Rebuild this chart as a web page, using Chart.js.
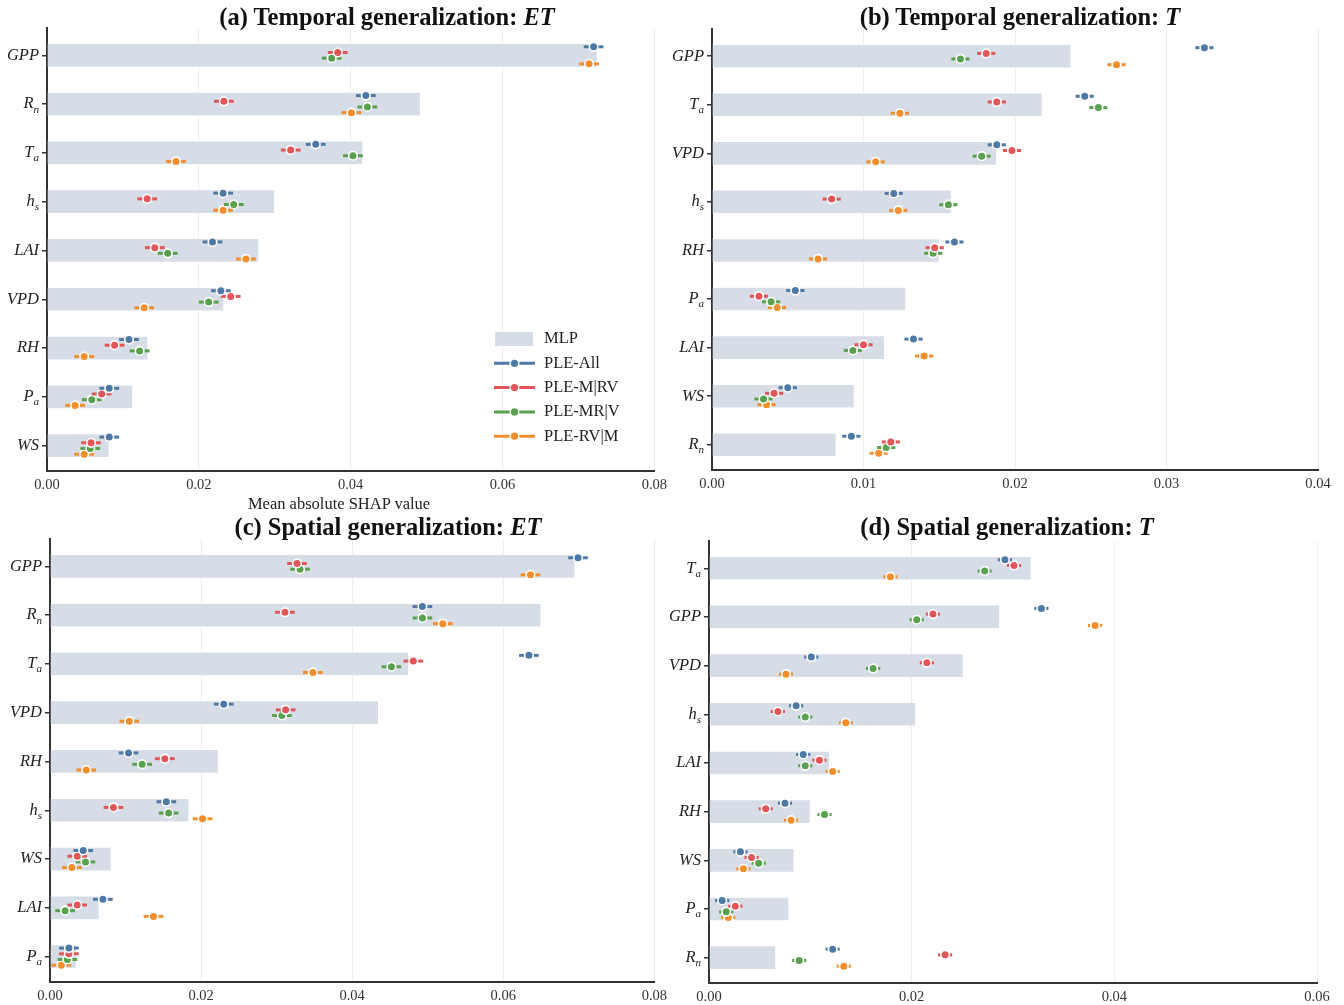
<!DOCTYPE html>
<html>
<head>
<meta charset="utf-8">
<script src="https://cdn.jsdelivr.net/npm/chart.js@4.4.0/dist/chart.umd.min.js"></script>
<style>
  body { margin: 0; background: #fff; }
  #page { position: relative; width: 1344px; height: 1005px; overflow: hidden; background: #fff; }
  canvas { position: absolute; }
  .title { position: absolute; font: bold 24.5px "Liberation Serif", "Times New Roman", serif; color: #111; white-space: nowrap; transform: translate(-50%, -50%); }
  .xlabel { position: absolute; font: 16.5px "Liberation Serif", "Times New Roman", serif; color: #222; white-space: nowrap; transform: translate(-50%, -50%); }
</style>
</head>
<body>
<div id="page">
  <canvas id="chartA" width="672" height="520" style="left:0;top:0"></canvas>
  <canvas id="chartB" width="684" height="520" style="left:660px;top:0"></canvas>
  <canvas id="chartC" width="672" height="495" style="left:0;top:510px"></canvas>
  <canvas id="chartD" width="704" height="495" style="left:640px;top:510px"></canvas>
  <div class="title" style="left:387px;top:17px">(a) Temporal generalization: <i>ET</i></div>
  <div class="title" style="left:1020px;top:17px">(b) Temporal generalization: <i>T</i></div>
  <div class="title" style="left:388px;top:527px">(c) Spatial generalization: <i>ET</i></div>
  <div class="title" style="left:1007px;top:527px">(d) Spatial generalization: <i>T</i></div>
  <div class="xlabel" style="left:339px;top:504px">Mean absolute SHAP value</div>
</div>
<script>
// (a) temporal, ET
const catsA = ["GPP", "R_n", "T_a", "h_s", "LAI", "VPD", "RH", "P_a", "WS"];
const mlpA = [0.0725, 0.0492, 0.0416, 0.0300, 0.0279, 0.0233, 0.0133, 0.0113, 0.0082];
const allA = [0.0720, 0.0420, 0.0354, 0.0232, 0.0218, 0.0229, 0.0108, 0.0082, 0.0082];
const mRvA = [0.0383, 0.0233, 0.0321, 0.0132, 0.0142, 0.0242, 0.0089, 0.0072, 0.0058];
const mrVA = [0.0375, 0.0422, 0.0403, 0.0246, 0.0159, 0.0213, 0.0122, 0.0059, 0.0057];
const rvMA = [0.0714, 0.0401, 0.0170, 0.0232, 0.0262, 0.0128, 0.0049, 0.0037, 0.0049];
const errA = 0.0013;

// (b) temporal, T
const catsB = ["GPP", "T_a", "VPD", "h_s", "RH", "P_a", "LAI", "WS", "R_n"];
const mlpB = [0.0237, 0.0218, 0.0188, 0.0158, 0.0150, 0.0128, 0.0114, 0.0094, 0.0082];
const allB = [0.0325, 0.0246, 0.0188, 0.0120, 0.0160, 0.0055, 0.0133, 0.0050, 0.0092];
const mRvB = [0.0181, 0.0188, 0.0198, 0.0079, 0.0147, 0.0031, 0.0100, 0.0041, 0.0118];
const mrVB = [0.0164, 0.0255, 0.0178, 0.0156, 0.0146, 0.0039, 0.0093, 0.0034, 0.0115];
const rvMB = [0.0267, 0.0124, 0.0108, 0.0123, 0.0070, 0.0043, 0.0140, 0.0036, 0.0110];
const errB = 0.0006;

// (c) spatial, ET
const catsC = ["GPP", "R_n", "T_a", "VPD", "RH", "h_s", "WS", "LAI", "P_a"];
const mlpC = [0.0695, 0.0650, 0.0475, 0.0435, 0.0223, 0.0184, 0.0081, 0.0065, 0.0035];
const allC = [0.0699, 0.0493, 0.0634, 0.0230, 0.0104, 0.0154, 0.0044, 0.0070, 0.0025];
const mRvC = [0.0327, 0.0311, 0.0481, 0.0312, 0.0152, 0.0084, 0.0036, 0.0036, 0.0025];
const mrVC = [0.0331, 0.0493, 0.0452, 0.0307, 0.0122, 0.0157, 0.0047, 0.0020, 0.0023];
const rvMC = [0.0636, 0.0520, 0.0348, 0.0105, 0.0048, 0.0202, 0.0029, 0.0137, 0.0015];
const errC = 0.0013;

// (d) spatial, T
const catsD = ["T_a", "GPP", "VPD", "h_s", "LAI", "RH", "WS", "P_a", "R_n"];
const mlpD = [0.0318, 0.0287, 0.0251, 0.0204, 0.0119, 0.0100, 0.0084, 0.0079, 0.0066];
const allD = [0.0292, 0.0328, 0.0101, 0.0086, 0.0093, 0.0075, 0.0031, 0.0013, 0.0122];
const mRvD = [0.0301, 0.0221, 0.0215, 0.0068, 0.0109, 0.0056, 0.0042, 0.0026, 0.0233];
const mrVD = [0.0272, 0.0205, 0.0162, 0.0095, 0.0095, 0.0114, 0.0049, 0.0017, 0.0089];
const rvMD = [0.0179, 0.0381, 0.0076, 0.0135, 0.0122, 0.0081, 0.0034, 0.0019, 0.0133];
const errD = 0.0007;

const seriesNames = ["PLE-All", "PLE-M|RV", "PLE-MR|V", "PLE-RV|M"];
const seriesColors = ["#4e79a7", "#e15759", "#59a14f", "#f28e2b"];
const pointOffsets = [-0.175, -0.058, 0.058, 0.175];
const barColor = "#d7dde7";
const serif = '"Liberation Serif", "Times New Roman", serif';

// horizontal error bar under each marker
const errorBars = {
  id: "errorBars",
  beforeDatasetDraw(chart, args) {
    const ds = chart.data.datasets[args.index];
    if (!ds.err) return;
    const xs = chart.scales.x, ys = chart.scales.y, ctx = chart.ctx;
    ctx.save();
    ctx.strokeStyle = ds.backgroundColor;
    ctx.lineWidth = 3;
    ds.data.forEach(p => {
      const y = ys.getPixelForValue(p.y);
      ctx.beginPath();
      ctx.moveTo(xs.getPixelForValue(p.x - ds.err), y);
      ctx.lineTo(xs.getPixelForValue(p.x + ds.err), y);
      ctx.stroke();
    });
    ctx.restore();
  }
};

function drawSubLabel(ctx, text, xRight, y) {
  const [main, sub] = text.split("_");
  ctx.font = "italic 16.5px " + serif;
  const wMain = ctx.measureText(main).width;
  let wSub = 0;
  if (sub) {
    ctx.font = "italic 11px " + serif;
    wSub = ctx.measureText(sub).width;
  }
  const x0 = xRight - wMain - wSub;
  ctx.textAlign = "left";
  ctx.textBaseline = "middle";
  ctx.font = "italic 16.5px " + serif;
  ctx.fillText(main, x0, y);
  if (sub) {
    ctx.font = "italic 11px " + serif;
    ctx.fillText(sub, x0 + wMain, y + 5.5);
  }
}

// italic y labels with subscripts, one per category tick
const yLabels = {
  id: "yLabels",
  afterDraw(chart) {
    const ys = chart.scales.y, ctx = chart.ctx;
    ctx.save();
    ctx.fillStyle = "#222";
    chart.data.labels.forEach((lab, i) => {
      drawSubLabel(ctx, lab, chart.chartArea.left - 8, ys.getPixelForValue(i));
    });
    ctx.restore();
  }
};

const legendBox = {
  id: "legendBox",
  afterDraw(chart, args, opts) {
    if (!opts.show) return;
    const ctx = chart.ctx, a = chart.chartArea;
    const x0 = a.left + 448, y0 = a.top + 311, step = 24.3;
    ctx.save();
    ctx.fillStyle = barColor;
    ctx.fillRect(x0, y0 - 7, 38, 14);
    ctx.font = "16.5px " + serif;
    ctx.textBaseline = "middle";
    ctx.fillStyle = "#222";
    ctx.fillText("MLP", x0 + 49, y0);
    seriesNames.forEach((name, k) => {
      const y = y0 + step * (k + 1);
      ctx.strokeStyle = seriesColors[k];
      ctx.lineWidth = 3;
      ctx.beginPath();
      ctx.moveTo(x0 - 1, y);
      ctx.lineTo(x0 + 40, y);
      ctx.stroke();
      ctx.beginPath();
      ctx.arc(x0 + 19.5, y, 5, 0, Math.PI * 2);
      ctx.fillStyle = "#fff";
      ctx.fill();
      ctx.beginPath();
      ctx.arc(x0 + 19.5, y, 3.6, 0, Math.PI * 2);
      ctx.fillStyle = seriesColors[k];
      ctx.fill();
      ctx.fillStyle = "#222";
      ctx.fillText(name, x0 + 49, y);
    });
    ctx.restore();
  }
};

function makePanel(id, cats, mlp, series, err, xMax, xStep, box, showLegend) {
  const n = cats.length;
  const datasets = series.map((vals, k) => ({
    type: "scatter",
    label: seriesNames[k],
    data: vals.map((v, i) => ({ x: v, y: i + pointOffsets[k] })),
    err: err,
    backgroundColor: seriesColors[k],
    borderColor: "#fff",
    borderWidth: 1.6,
    pointRadius: 4.3,
    order: k
  }));
  datasets.push({
    type: "bar",
    label: "MLP",
    indexAxis: "y",
    data: mlp.map((v, i) => ({ x: v, y: i })),
    backgroundColor: barColor,
    borderColor: "#fff",
    borderWidth: 0.6,
    categoryPercentage: 1,
    barPercentage: 0.49,
    order: 10
  });

  new Chart(document.getElementById(id), {
    type: "scatter",
    data: { labels: cats, datasets },
    options: {
      responsive: false,
      animation: false,
      events: [],
      layout: { padding: { left: 0, right: box.padRight, top: box.padTop, bottom: 0 } },
      plugins: {
        legend: { display: false },
        tooltip: { enabled: false },
        legendBox: { show: showLegend }
      },
      scales: {
        x: {
          type: "linear",
          position: "bottom",
          offset: false,
          min: 0,
          max: xMax,
          afterFit: s => { s.height = box.xHeight; },
          ticks: {
            stepSize: xStep,
            padding: 5,
            color: "#333",
            font: { family: serif, size: 14.5 },
            callback: v => v.toFixed(2)
          },
          grid: { offset: false, color: "#efefef", lineWidth: 1, drawTicks: false },
          border: { color: "#333", width: 2 }
        },
        y: {
          type: "linear",
          position: "left",
          reverse: true,
          offset: false,
          min: -0.56,
          max: n - 0.48,
          afterFit: s => { s.width = box.yWidth; },
          afterBuildTicks: s => { s.ticks = cats.map((c, i) => ({ value: i })); },
          ticks: { color: "rgba(0,0,0,0)", font: { size: 1 }, callback: () => "" },
          grid: { offset: false, drawOnChartArea: false, drawTicks: true, tickLength: 5, color: "#333", lineWidth: 1.5 },
          border: { color: "#333", width: 2 }
        }
      }
    },
    plugins: [errorBars, yLabels, legendBox]
  });
}

makePanel("chartA", catsA, mlpA, [allA, mRvA, mrVA, rvMA], errA, 0.08, 0.02,
  { yWidth: 47, padRight: 17, padTop: 28, xHeight: 49 }, true);
makePanel("chartB", catsB, mlpB, [allB, mRvB, mrVB, rvMB], errB, 0.04, 0.01,
  { yWidth: 52, padRight: 26, padTop: 29, xHeight: 50 }, false);
makePanel("chartC", catsC, mlpC, [allC, mRvC, mrVC, rvMC], errC, 0.08, 0.02,
  { yWidth: 50, padRight: 16, padTop: 29, xHeight: 23 }, false);
makePanel("chartD", catsD, mlpD, [allD, mRvD, mrVD, rvMD], errD, 0.06, 0.02,
  { yWidth: 69, padRight: 27, padTop: 31, xHeight: 22 }, false);
</script>
</body>
</html>
